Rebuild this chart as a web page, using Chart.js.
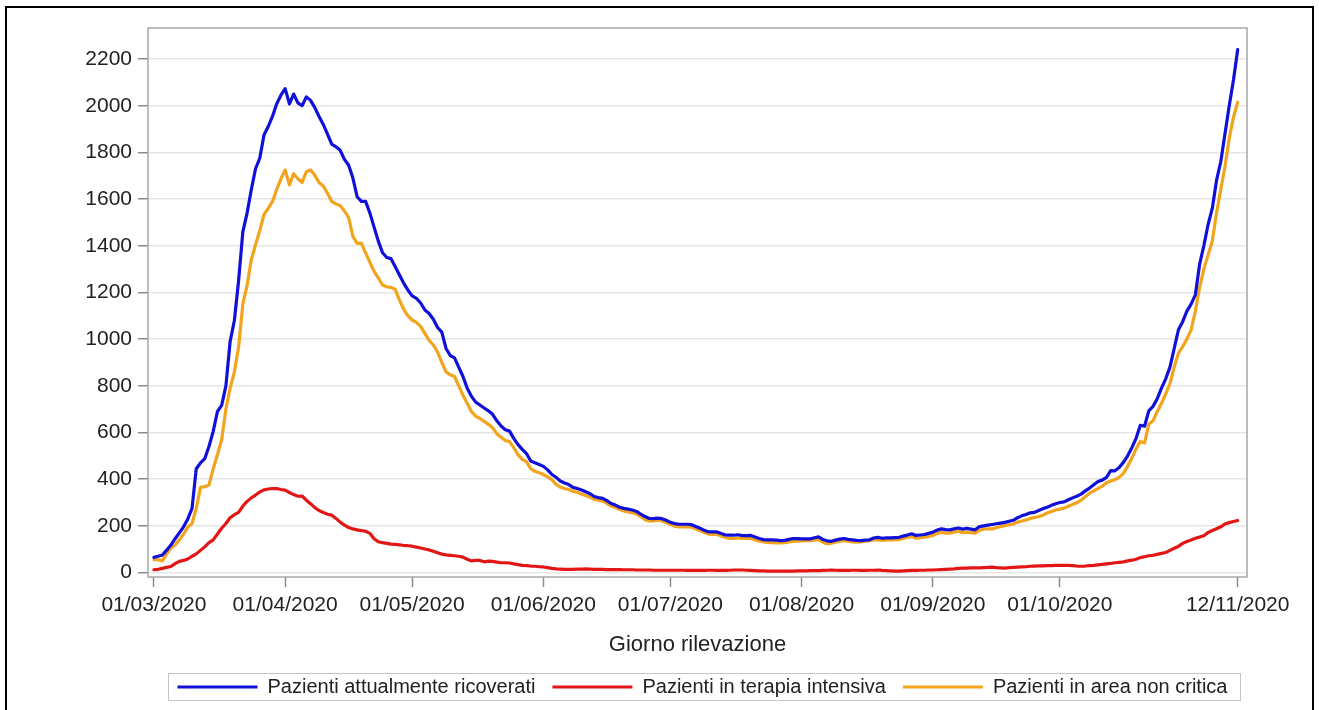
<!DOCTYPE html>
<html>
<head>
<meta charset="utf-8">
<script src="https://cdn.jsdelivr.net/npm/chart.js@4.4.0/dist/chart.umd.min.js"></script>
<style>
html,body{margin:0;padding:0;background:#fff;}
#wrap{position:relative;width:1319px;height:710px;}
</style>
</head>
<body>
<div id="wrap"><canvas id="c" width="1319" height="710"></canvas></div>
<script>
// Day index 0 = 01/03/2020, last = 12/11/2020
const tickDays = [0, 31, 61, 92, 122, 153, 184, 214, 256];
const tickLabels = ['01/03/2020','01/04/2020','01/05/2020','01/06/2020','01/07/2020','01/08/2020','01/09/2020','01/10/2020','12/11/2020'];
const yTicks = [0,200,400,600,800,1000,1200,1400,1600,1800,2000,2200];
const seriesNames = ['Pazienti attualmente ricoverati','Pazienti in terapia intensiva','Pazienti in area non critica'];
const xTitle = 'Giorno rilevazione';

const ricoverati = [
  65,70,75,96,118,145,170,196,230,275,
  445,470,488,540,605,690,716,800,990,1080,
  1250,1460,1540,1640,1730,1775,1875,1911,1954,2008,
  2045,2073,2008,2050,2012,2000,2038,2023,1992,1954,
  1920,1878,1835,1824,1809,1770,1745,1690,1610,1590,
  1590,1541,1480,1420,1370,1350,1345,1310,1275,1240,
  1210,1185,1175,1155,1125,1110,1085,1050,1030,960,
  930,920,880,840,790,755,730,718,705,693,
  678,650,628,612,606,575,548,528,510,478,
  470,463,455,440,420,408,392,384,377,365,
  360,354,346,338,326,321,318,308,296,289,
  280,275,272,268,262,250,240,232,231,233,
  231,224,215,210,207,207,207,205,197,190,
  181,174,174,174,167,161,160,160,162,158,
  158,159,152,146,141,140,140,139,137,138,
  142,146,145,144,144,144,149,153,142,136,
  134,139,143,146,142,140,138,137,139,140,
  148,151,147,149,149,150,151,156,161,166,
  159,161,163,168,173,182,187,184,183,187,
  191,186,189,186,183,197,200,203,206,209,
  212,215,220,224,235,243,249,256,258,266,
  274,280,288,295,300,303,312,320,327,336,
  350,362,376,390,396,408,437,436,450,472,
  500,535,575,631,627,693,712,745,790,830,
  880,960,1040,1075,1120,1150,1190,1320,1400,1490,
  1560,1680,1760,1880,2000,2110,2240
];

const terapiaIntensiva = [
  12,14,18,22,26,38,48,52,58,70,
  80,95,110,128,140,165,190,210,235,248,
  258,285,305,320,332,345,354,358,360,360,
  356,353,343,334,327,328,310,295,278,266,
  257,250,246,232,216,203,193,187,183,180,
  177,168,145,132,128,125,122,121,119,116,
  115,113,109,105,101,97,91,85,79,76,
  74,72,70,66,57,50,52,52,46,49,
  48,45,42,42,41,37,34,31,30,28,
  27,25,24,21,18,16,15,14,14,14,
  15,15,16,15,14,14,14,13,13,13,
  13,12,12,12,11,11,11,11,10,10,
  10,10,10,10,10,10,9,9,9,9,
  9,10,10,9,9,9,10,11,11,11,
  10,9,8,7,7,6,6,6,6,6,
  6,6,7,7,7,8,8,8,9,10,
  11,10,9,9,9,10,10,9,9,10,
  10,11,9,8,7,6,6,7,8,9,
  9,10,10,11,11,12,13,14,15,16,
  18,19,19,20,20,20,21,22,23,21,
  20,19,21,22,23,24,25,27,28,29,
  29,30,30,31,31,31,31,30,28,27,
  28,30,31,33,35,37,39,42,44,46,
  50,53,57,64,68,72,74,78,82,86,
  95,104,112,125,133,140,147,152,158,172,
  180,188,196,208,214,219,223
];

const areaNonCritica = [
  55,55,50,80,105,118,140,165,195,210,
  275,365,368,375,445,505,570,700,790,860,
  965,1150,1230,1340,1405,1465,1534,1560,1590,1641,
  1687,1725,1661,1709,1687,1671,1717,1725,1702,1671,
  1656,1625,1590,1579,1572,1549,1520,1440,1410,1411,
  1370,1330,1290,1262,1232,1224,1222,1213,1167,1128,
  1100,1082,1072,1055,1025,995,975,945,900,860,
  847,840,800,760,725,690,670,660,648,635,
  620,595,580,566,561,535,505,485,475,445,
  434,428,420,410,398,378,366,360,356,348,
  344,336,330,323,313,310,306,296,285,279,
  270,264,260,256,251,240,226,221,221,224,
  221,214,206,199,196,196,196,194,187,180,
  172,165,164,163,157,150,146,146,148,146,
  146,146,140,135,131,129,128,127,127,128,
  131,134,135,136,137,137,140,141,130,123,
  126,130,134,137,134,131,130,131,134,137,
  140,140,138,140,140,141,141,146,151,154,
  147,149,152,155,159,168,172,169,169,173,
  177,171,173,171,169,182,186,187,187,192,
  197,201,205,208,216,221,225,232,236,240,
  246,255,262,268,272,276,284,292,299,310,
  325,340,350,360,370,385,392,398,408,425,
  455,490,530,562,555,635,650,690,725,765,
  810,880,940,968,1000,1040,1120,1220,1300,1360,
  1420,1540,1640,1740,1860,1950,2015
];

const colors = ['#1010d8', '#e31616', '#f2a41c'];
const FONT = "'Liberation Sans', Arial, Helvetica, sans-serif";
const LINE_W = 3.2;

function toPoints(arr){ return arr.map((v,i)=>({x:i, y:v})); }

const decorPlugin = {
  id: 'decor',
  beforeDraw(chart){
    const ctx = chart.ctx;
    ctx.save();
    ctx.fillStyle = '#ffffff';
    ctx.fillRect(0,0,chart.width,chart.height);
    ctx.restore();
  },
  afterLayout(chart){
    const lg = chart.legend;
    if (lg) { lg.left += 5; lg.right += 5; }
  },
  afterDraw(chart){
    const ctx = chart.ctx, a = chart.chartArea;
    ctx.save();
    // plot frame
    ctx.strokeStyle = '#a8a8a8';
    ctx.lineWidth = 1.5;
    ctx.strokeRect(a.left, a.top, a.right - a.left, a.bottom - a.top);
    // legend frame
    const lg = chart.legend;
    if (lg && lg.legendHitBoxes && lg.legendHitBoxes.length){
      const hb = lg.legendHitBoxes;
      let l = Infinity, r = -Infinity, t = Infinity, b = -Infinity;
      hb.forEach(h => { l = Math.min(l, h.left); r = Math.max(r, h.left + h.width); t = Math.min(t, h.top); b = Math.max(b, h.top + h.height); });
      const cy = (t + b) / 2;
      ctx.strokeStyle = '#c4c4c4';
      ctx.lineWidth = 1;
      ctx.strokeRect(Math.round(l - 10) + 0.5, Math.round(cy - 14) + 0.5, Math.round(r - l + 22), 27);
    }
    // outer border
    ctx.strokeStyle = '#000000';
    ctx.lineWidth = 2;
    ctx.strokeRect(6, 7, 1307, 730);
    ctx.restore();
  }
};

new Chart(document.getElementById('c'), {
  type: 'line',
  data: {
    datasets: [
      { label: seriesNames[0], data: toPoints(ricoverati), borderColor: colors[0], backgroundColor: colors[0], borderWidth: LINE_W },
      { label: seriesNames[1], data: toPoints(terapiaIntensiva), borderColor: colors[1], backgroundColor: colors[1], borderWidth: LINE_W },
      { label: seriesNames[2], data: toPoints(areaNonCritica), borderColor: colors[2], backgroundColor: colors[2], borderWidth: LINE_W }
    ]
  },
  options: {
    responsive: false,
    devicePixelRatio: 1,
    animation: false,
    layout: { padding: { left: 0, right: 72, top: 28, bottom: 3 } },
    elements: {
      line: { tension: 0, fill: false, borderJoinStyle: 'round', borderCapStyle: 'round' },
      point: { radius: 0, hoverRadius: 0 }
    },
    scales: {
      x: {
        type: 'linear',
        min: -1.4,
        max: 258.2,
        afterBuildTicks(scale){ scale.ticks = tickDays.map(v => ({value: v})); },
        afterFit(scale){ scale.height = 83; },
        ticks: {
          autoSkip: false,
          maxRotation: 0,
          padding: 6,
          color: '#222',
          font: { family: FONT, size: 21 },
          callback(value){ const i = tickDays.indexOf(value); return i >= 0 ? tickLabels[i] : ''; }
        },
        grid: { drawOnChartArea: false, drawTicks: true, tickLength: 10, tickColor: '#8c8c8c', tickWidth: 1.5 },
        border: { display: false },
        title: { display: true, text: xTitle, color: '#222', font: { family: FONT, size: 22 }, padding: { top: 0, bottom: 2 } }
      },
      y: {
        type: 'linear',
        min: -19,
        max: 2333,
        afterBuildTicks(scale){ scale.ticks = yTicks.map(v => ({value: v})); },
        afterFit(scale){ scale.width = 148; },
        ticks: {
          padding: 6, color: '#222', font: { family: FONT, size: 21 },
          callback(value){ return String(value); }
        },
        grid: { color: '#e6e6e6', lineWidth: 1.5, tickLength: 10, tickColor: '#8c8c8c', tickWidth: 1.5 },
        border: { display: false }
      }
    },
    plugins: {
      legend: {
        position: 'bottom',
        fullSize: false,
        labels: {
          usePointStyle: true,
          pointStyle: 'line',
          pointStyleWidth: 80,
          boxHeight: 20,
          padding: 17,
          color: '#222',
          font: { family: FONT, size: 20 }
        }
      },
      tooltip: { enabled: false },
      title: { display: false }
    }
  },
  plugins: [decorPlugin]
});
</script>
</body>
</html>
